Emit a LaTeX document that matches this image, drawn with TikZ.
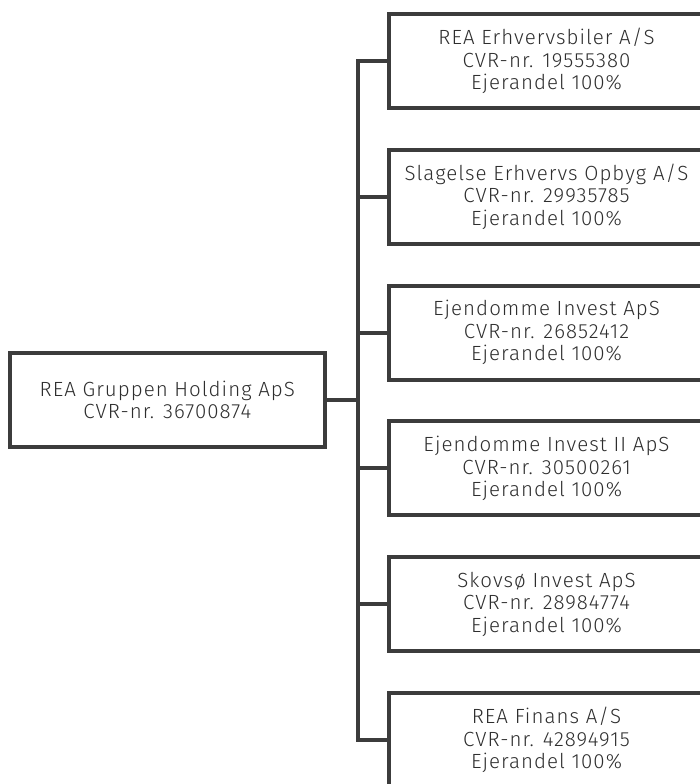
\documentclass[tikz,border=0pt]{standalone}
\usepackage{fontspec}
\setmainfont{Fira Sans}[UprightFont={* Light}, LetterSpace=5]
\usetikzlibrary{positioning}
\definecolor{linegray}{HTML}{3C3C3C}
\definecolor{textgray}{HTML}{2E2E2E}

\begin{document}
\begin{tikzpicture}[x=1pt, y=1pt, node distance=135.8pt, line width=4pt]
\tikzstyle{co}=[rectangle, draw=linegray, text=textgray, align=center,
  minimum width=315pt, minimum height=94pt, inner sep=0pt,
  font=\fontsize{20.5}{22.5}\selectfont]
\useasboundingbox (0,0) rectangle (699,784);
\node[co] (H) at (167.3,384) {REA Gruppen Holding ApS\\CVR-nr. 36700874};
\node[co] (A) at (546.5,723) {REA Erhvervsbiler A/S\\CVR-nr. 19555380\\Ejerandel 100\%};
\node[co] (B) [below of=A] {Slagelse Erhvervs Opbyg A/S\\CVR-nr. 29935785\\Ejerandel 100\%};
\node[co] (C) [below of=B] {Ejendomme Invest ApS\\CVR-nr. 26852412\\Ejerandel 100\%};
\node[co] (D) [below of=C] {Ejendomme Invest II ApS\\CVR-nr. 30500261\\Ejerandel 100\%};
\node[co] (E) [below of=D] {Skovsø Invest ApS\\CVR-nr. 28984774\\Ejerandel 100\%};
\node[co] (F) [below of=E] {REA Finans A/S\\CVR-nr. 42894915\\Ejerandel 100\%};
\coordinate (bus) at (357.5,384);
\path[draw=linegray]
(H.east) -- (bus)
(bus) |- (A.west)
(bus) |- (B.west)
(bus) |- (C.west)
(bus) |- (D.west)
(bus) |- (E.west)
(bus) |- (F.west);
\end{tikzpicture}
\end{document}
